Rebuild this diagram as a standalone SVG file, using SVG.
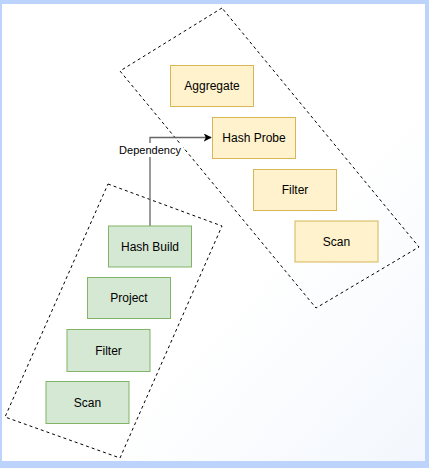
<svg xmlns="http://www.w3.org/2000/svg" width="429" height="468" viewBox="0 0 429 468">
<defs>
<linearGradient id="bg" x1="0" y1="0" x2="1" y2="1">
<stop offset="0" stop-color="#ffffff"/>
<stop offset="0.6" stop-color="#ffffff"/>
<stop offset="1" stop-color="#f3f7fd"/>
</linearGradient>
<marker id="arr" viewBox="0 0 10 10" refX="9" refY="5" markerWidth="8" markerHeight="8" markerUnits="userSpaceOnUse" orient="auto">
<path d="M0,0 L10,5 L0,10 L2.5,5 Z" fill="#000"/>
</marker>
</defs>
<style>
.y{fill:#fff2cc;stroke:#d6b656;stroke-width:1}
.g{fill:#d5e8d4;stroke:#82b366;stroke-width:1}
.t{font-family:"Liberation Sans",Arial,sans-serif;font-size:12px;fill:#000;text-anchor:middle;dominant-baseline:central}
.grp{fill:none;stroke:#000;stroke-width:1;stroke-dasharray:3 3}
.lbl{font-family:"Liberation Sans",Arial,sans-serif;font-size:11px;fill:#000;text-anchor:middle;dominant-baseline:central}
</style>
<rect x="0" y="0" width="429" height="468" fill="#bcd4fb"/>
<rect x="2" y="4" width="423" height="457" fill="url(#bg)"/>
<g id="groups">
<polygon id="probe-group" class="grp" points="222,8 120,71 316,308 419,247"/>
<polygon id="build-group" class="grp" points="108,184 222,226 120,458 5,417"/>
</g>
<g id="connectors">
<path d="M150,226 V137.5 H211" fill="none" stroke="#666" stroke-width="1.3" marker-end="url(#arr)"/>
<rect x="117" y="143" width="66" height="14" fill="#fff"/>
<text class="lbl" x="150" y="150">Dependency</text>
</g>
<g id="aggregate"><rect class="y" x="170.5" y="65.5" width="83" height="41"/><text class="t" x="212" y="86">Aggregate</text></g>
<g id="hash-probe"><rect class="y" x="212.5" y="117.5" width="83" height="41"/><text class="t" x="254" y="138">Hash Probe</text></g>
<g id="filter-probe"><rect class="y" x="253.5" y="169.5" width="83" height="41"/><text class="t" x="295" y="190">Filter</text></g>
<g id="scan-probe"><rect class="y" x="295" y="221" width="83" height="41"/><text class="t" x="336.5" y="241.5">Scan</text></g>
<g id="hash-build"><rect class="g" x="108.5" y="226" width="83" height="41"/><text class="t" x="150" y="246.5">Hash Build</text></g>
<g id="project"><rect class="g" x="87.5" y="277.5" width="83" height="41"/><text class="t" x="129" y="298">Project</text></g>
<g id="filter-build"><rect class="g" x="67" y="329.5" width="83" height="42"/><text class="t" x="108.5" y="350.5">Filter</text></g>
<g id="scan-build"><rect class="g" x="46" y="381.5" width="83" height="42"/><text class="t" x="87.5" y="402.5">Scan</text></g>
</svg>
